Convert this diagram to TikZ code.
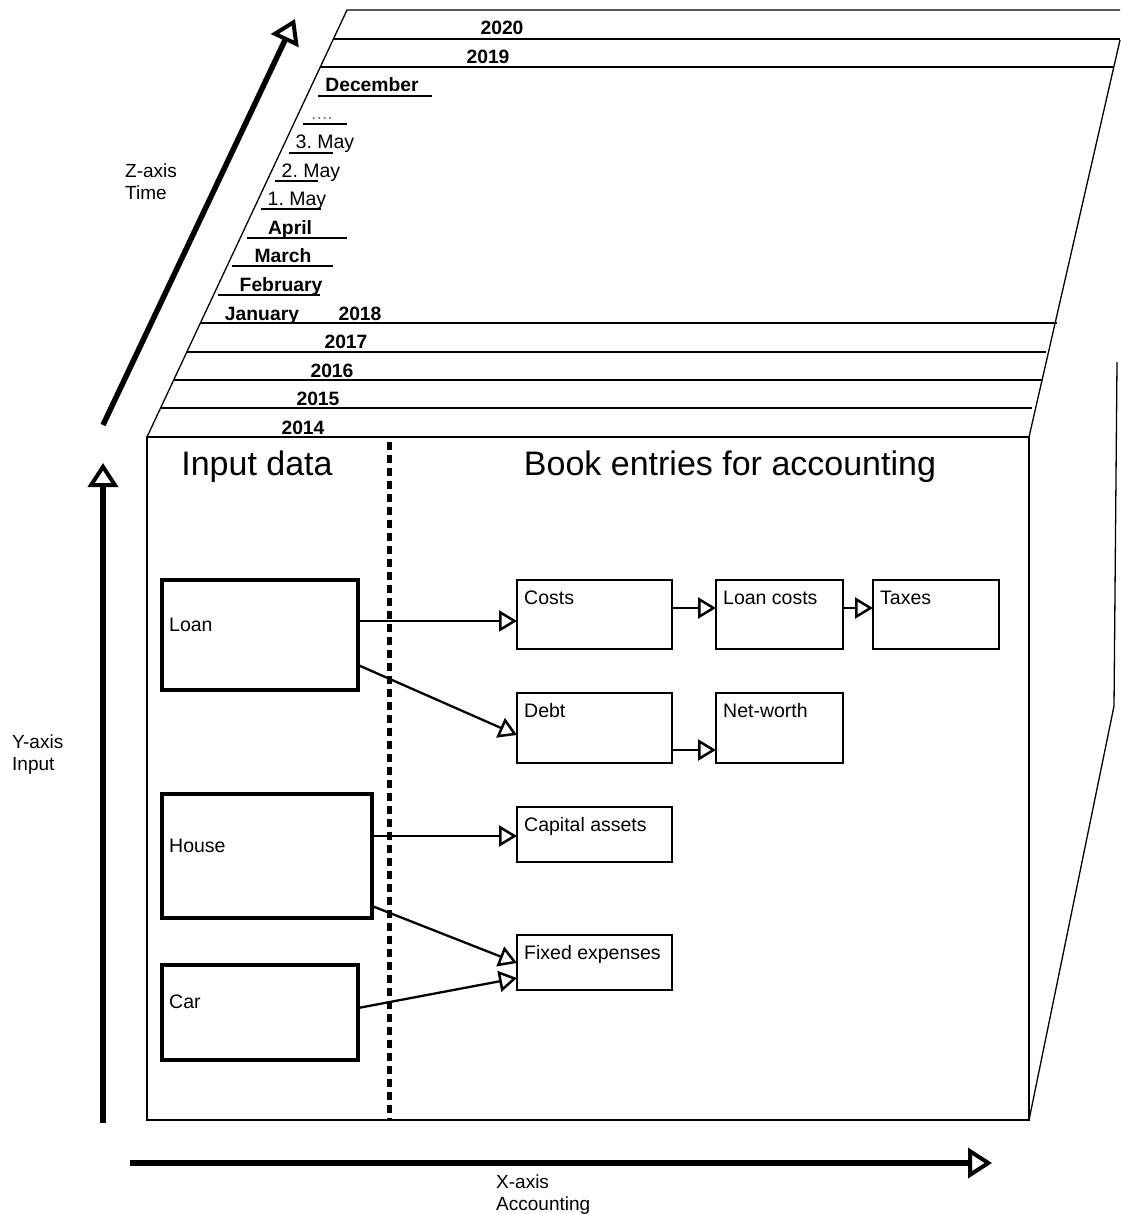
\documentclass[tikz,border=0pt]{standalone}
\usepackage{fontspec}
\setmainfont{Liberation Sans}
\usetikzlibrary{arrows.meta,calc}

\begin{document}
\begin{tikzpicture}[x=1pt,y=-1pt,
  edge/.style={line width=1.3pt},
  divider/.style={line width=5pt, dash pattern=on 8pt off 5pt},
  axisarrow/.style={line width=5.5pt, -{Triangle[open, length=24pt, width=30pt, line width=4pt]}},
  flow/.style={line width=2.3pt, -{Triangle[open, length=18pt, width=21pt, line width=2.5pt]}},
  inbox/.style={draw, rectangle, line width=3.5pt, outer sep=0pt, inner sep=0pt, anchor=north west},
  bookbox/.style={draw, rectangle, line width=1.3pt, outer sep=0pt, inner sep=0pt, anchor=north west},
  tagtext/.style={font=\fontsize{19.5}{23}\selectfont, text height=14pt, text depth=0pt, inner xsep=7pt, inner ysep=10pt},
  inlabel/.style={tagtext, anchor=west, inner ysep=0pt, yshift=11pt},
  toplabel/.style={tagtext, anchor=north west},
  period/.style={font=\bfseries\fontsize{19.3}{23}\selectfont, anchor=base, inner sep=0pt},
  day/.style={font=\fontsize{19.5}{23}\selectfont, anchor=base, inner sep=0pt},
  title/.style={font=\fontsize{34}{40}\selectfont, anchor=base, inner sep=0pt},
  axislabel/.style={font=\fontsize{19}{22}\selectfont, align=left, anchor=base west, inner sep=0pt}
]
\useasboundingbox (0,0) rectangle (1120,1214);

% front face of the cube
\draw[edge] (147,437) rectangle (1029,1120);
% top face
\draw[edge] (147,437) -- (347,10) -- (1120,10);
\draw[edge] (1120,40) -- (1029,437);
% right face
\draw[edge] (1117,362) -- (1114,706) -- (1029,1120);

% year layers on the top face
\draw[edge] (333.4,39) -- (1120,39);
\draw[edge] (320.3,67) -- (1114,67);
\draw[edge] (201,323) -- (1057,323);
\draw[edge] (187,352) -- (1046,352);
\draw[edge] (174,380) -- (1042,380);
\draw[edge] (161,408) -- (1032,408);

% month and day underlines
\draw[edge] (318,96) -- (432,96);
\draw[edge] (303,124) -- (347,124);
\draw[edge] (289,153) -- (333,153);
\draw[edge] (275,181) -- (318,181);
\draw[edge] (261,209) -- (321,209);
\draw[edge] (247,238) -- (347,238);
\draw[edge] (232,266) -- (333,266);
\draw[edge] (218,295) -- (320,295);

% time labels
\node[period] (y2020) at (502,35) {2020};
\node[period] (y2019) at (488,64) {2019};
\node[period] (mdec) at (372,92) {December};
\node[day, text=gray] (mdots) at (322,120) {....};
\node[day] (d3) at (325,149) {3.\ May};
\node[day] (d2) at (311,178) {2.\ May};
\node[day] (d1) at (297,206) {1.\ May};
\node[period] (mapr) at (290,235) {April};
\node[period] (mmar) at (283,263) {March};
\node[period] (mfeb) at (281,292) {February};
\node[period] (mjan) at (262,320) {January};
\node[period] (y2018) at (360,320) {2018};
\node[period] (y2017) at (346,348) {2017};
\node[period] (y2016) at (332,377) {2016};
\node[period] (y2015) at (318,405) {2015};
\node[period] (y2014) at (303,434) {2014};

% section titles and divider
\node[title] (tin) at (257,475) {Input data};
\node[title] (tbook) at (730,475) {Book entries for accounting};
\draw[divider] (389,442) -- (389,1120);

% input boxes
\node[inbox, minimum width=196pt, minimum height=110pt,
      label={[inlabel]west:Loan}] (loan) at (162,580) {};
\node[inbox, minimum width=210pt, minimum height=124pt,
      label={[inlabel]west:House}] (house) at (162,794) {};
\node[inbox, minimum width=196pt, minimum height=95pt,
      label={[inlabel]west:Car}] (car) at (162,965) {};

% book entry boxes
\node[bookbox, minimum width=155pt, minimum height=69pt,
      label={[toplabel]north west:Costs}] (costs) at (517,580) {};
\node[bookbox, minimum width=127pt, minimum height=69pt,
      label={[toplabel]north west:Loan costs}] (loancosts) at (716,580) {};
\node[bookbox, minimum width=126pt, minimum height=69pt,
      label={[toplabel]north west:Taxes}] (taxes) at (873,580) {};
\node[bookbox, minimum width=155pt, minimum height=70pt,
      label={[toplabel]north west:Debt}] (debt) at (517,693) {};
\node[bookbox, minimum width=127pt, minimum height=70pt,
      label={[toplabel]north west:Net-worth}] (networth) at (716,693) {};
\node[bookbox, minimum width=155pt, minimum height=55pt,
      label={[toplabel]north west:Capital assets}] (capital) at (517,807) {};
\node[bookbox, minimum width=155pt, minimum height=55pt,
      label={[toplabel]north west:Fixed expenses}] (fixed) at (517,935) {};

% flows from inputs to book entries
\draw[flow] ($(loan.north east)+(0,41)$) -- ($(costs.north west)+(0,41)$);
\draw[flow] ($(loan.north east)+(0,85)$) -- ($(debt.north west)+(0,42)$);
\draw[flow] ($(costs.north east)+(0,28)$) -- ($(loancosts.north west)+(0,28)$);
\draw[flow] ($(loancosts.north east)+(0,28)$) -- ($(taxes.north west)+(0,28)$);
\draw[flow] ($(debt.north east)+(0,57)$) -- ($(networth.north west)+(0,57)$);
\draw[flow] ($(house.north east)+(0,42)$) -- ($(capital.north west)+(0,29)$);
\draw[flow] ($(house.north east)+(0,112)$) -- ($(fixed.north west)+(0,28)$);
\draw[flow] ($(car.north east)+(0,43)$) -- ($(fixed.north west)+(0,43)$);

% axes
\coordinate (zfrom) at (103,425);
\coordinate (zto) at (295,19);
\coordinate (yfrom) at (103,1123);
\coordinate (yto) at (103,463);
\coordinate (xfrom) at (130,1163);
\coordinate (xto) at (992,1163);
\draw[axisarrow] (zfrom) -- (zto);
\draw[axisarrow] (yfrom) -- (yto);
\draw[axisarrow] (xfrom) -- (xto);

\node[axislabel] (zlabel) at (125,200) {Z-axis\\Time};
\node[axislabel] (ylabel) at (12,770) {Y-axis\\Input};
\node[axislabel] (xlabel) at (496,1210) {X-axis\\Accounting};
\end{tikzpicture}
\end{document}
